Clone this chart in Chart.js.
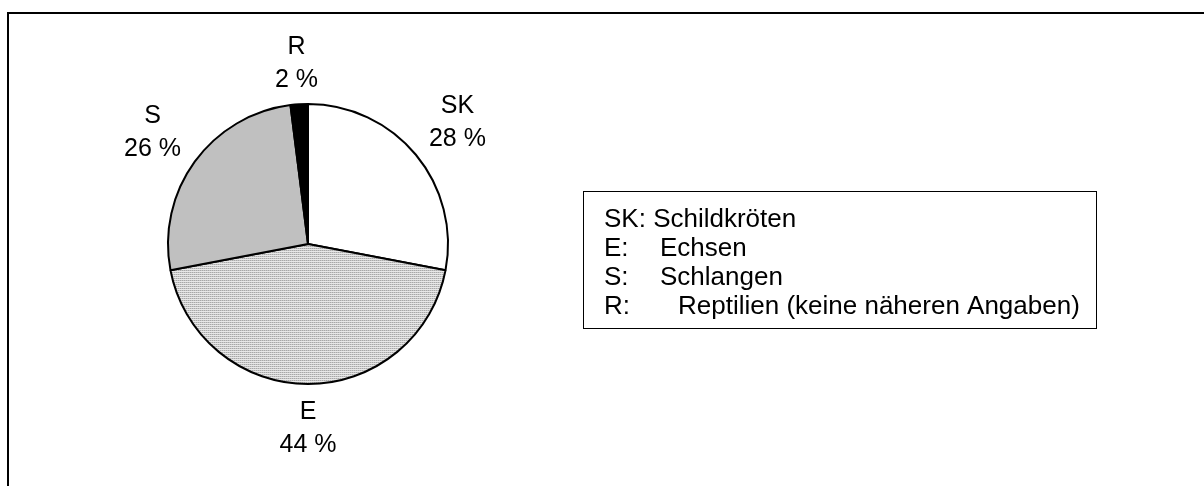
<!DOCTYPE html>
<html>
<head>
<meta charset="utf-8">
<style>
  html, body { margin: 0; padding: 0; background: #ffffff; }
  #wrap { position: relative; width: 1204px; height: 486px; }
  canvas { display: block; }
</style>
<script src="https://cdn.jsdelivr.net/npm/chart.js@4/dist/chart.umd.min.js"></script>
</head>
<body>
<div id="wrap"><canvas id="c" width="1204" height="486"></canvas></div>
<script>
// ---- data ----
const categories = ['SK', 'E', 'S', 'R'];
const shares = [28, 44, 26, 2];
const legendCodes = ['SK:', 'E:', 'S:', 'R:'];
const legendNames = ['Schildkröten', 'Echsen', 'Schlangen', 'Reptilien (keine näheren Angaben)'];

// ---- styles ----
const FONT = '"Liberation Sans", Arial, sans-serif';
function makePattern() {
  const t = document.createElement('canvas');
  t.width = 4; t.height = 2;
  const g = t.getContext('2d');
  g.fillStyle = '#e8e8e8'; g.fillRect(0, 0, 4, 2);
  g.fillStyle = '#a8a8a8'; g.fillRect(0, 0, 1, 1); g.fillRect(2, 0, 1, 1);
  g.fillStyle = '#c8c8c8'; g.fillRect(1, 0, 1, 1); g.fillRect(3, 0, 1, 1);
  return document.getElementById('c').getContext('2d').createPattern(t, 'repeat');
}
const sliceColors = ['#ffffff', makePattern(), '#c0c0c0', '#000000'];

const framePlugin = {
  id: 'frame',
  beforeDraw(chart) {
    const ctx = chart.ctx;
    ctx.save();
    ctx.strokeStyle = '#000';
    ctx.lineWidth = 2;
    ctx.beginPath();
    ctx.moveTo(8, 490);
    ctx.lineTo(8, 13);
    ctx.lineTo(1210, 13);
    ctx.stroke();
    ctx.restore();
  }
};

const labelPlugin = {
  id: 'sliceLabels',
  afterDatasetsDraw(chart) {
    const ctx = chart.ctx;
    const meta = chart.getDatasetMeta(0);
    const fs = 25, lineGap = 33, cap = fs * 0.716, gap = 17;
    ctx.save();
    ctx.font = fs + 'px ' + FONT;
    ctx.fillStyle = '#000';
    ctx.textAlign = 'center';
    ctx.textBaseline = 'alphabetic';
    meta.data.forEach((arc, i) => {
      const p = arc.getProps(['x', 'y', 'startAngle', 'endAngle', 'outerRadius'], true);
      const mid = (p.startAngle + p.endAngle) / 2;
      const l1 = categories[i];
      const l2 = shares[i] + ' %';
      const hw = Math.max(ctx.measureText(l1).width, ctx.measureText(l2).width) / 2;
      const hh = lineGap / 2 + cap / 2;
      const c = Math.cos(mid), s = Math.sin(mid);
      const tx = Math.abs(c) > 1e-6 ? hw / Math.abs(c) : Infinity;
      const ty = Math.abs(s) > 1e-6 ? hh / Math.abs(s) : Infinity;
      const d = p.outerRadius + gap + Math.min(tx, ty);
      const cx = p.x + c * d, cy = p.y + s * d;
      ctx.fillText(l1, cx, cy - lineGap / 2 + cap / 2);
      ctx.fillText(l2, cx, cy + lineGap / 2 + cap / 2);
    });
    ctx.restore();
  }
};

const legendPlugin = {
  id: 'legendBox',
  afterDraw(chart) {
    const ctx = chart.ctx;
    const fs = 26, lh = 29;
    const left = 583, top = 191;
    const codeX = left + 21, nameX = left + 77, nameXR = left + 95;
    const firstBase = top + 36;
    ctx.save();
    ctx.font = fs + 'px ' + FONT;
    ctx.fillStyle = '#000';
    ctx.textAlign = 'left';
    ctx.textBaseline = 'alphabetic';
    let maxRight = 0;
    legendCodes.forEach((code, i) => {
      const y = firstBase + i * lh;
      if (i === 0) {
        const txt = code + ' ' + legendNames[i];
        ctx.fillText(txt, codeX, y);
        maxRight = Math.max(maxRight, codeX + ctx.measureText(txt).width);
      } else {
        ctx.fillText(code, codeX, y);
        const nx = i === 3 ? nameXR : nameX;
        ctx.fillText(legendNames[i], nx, y);
        maxRight = Math.max(maxRight, nx + ctx.measureText(legendNames[i]).width);
      }
    });
    const bottom = firstBase + (legendCodes.length - 1) * lh + 14;
    const right = maxRight + 16;
    ctx.strokeStyle = '#000';
    ctx.lineWidth = 1;
    ctx.strokeRect(left + 0.5, top + 0.5, Math.round(right - left), Math.round(bottom - top));
    ctx.restore();
  }
};

new Chart(document.getElementById('c'), {
  type: 'pie',
  data: {
    labels: categories,
    datasets: [{
      data: shares,
      backgroundColor: sliceColors,
      borderColor: '#000000',
      borderWidth: 2,
      borderAlign: 'center'
    }]
  },
  options: {
    responsive: false,
    animation: false,
    rotation: 0,
    layout: { padding: { left: 167, top: 103, right: 755, bottom: 101 } },
    plugins: {
      legend: { display: false },
      tooltip: { enabled: false }
    }
  },
  plugins: [framePlugin, labelPlugin, legendPlugin]
});
</script>
</body>
</html>
